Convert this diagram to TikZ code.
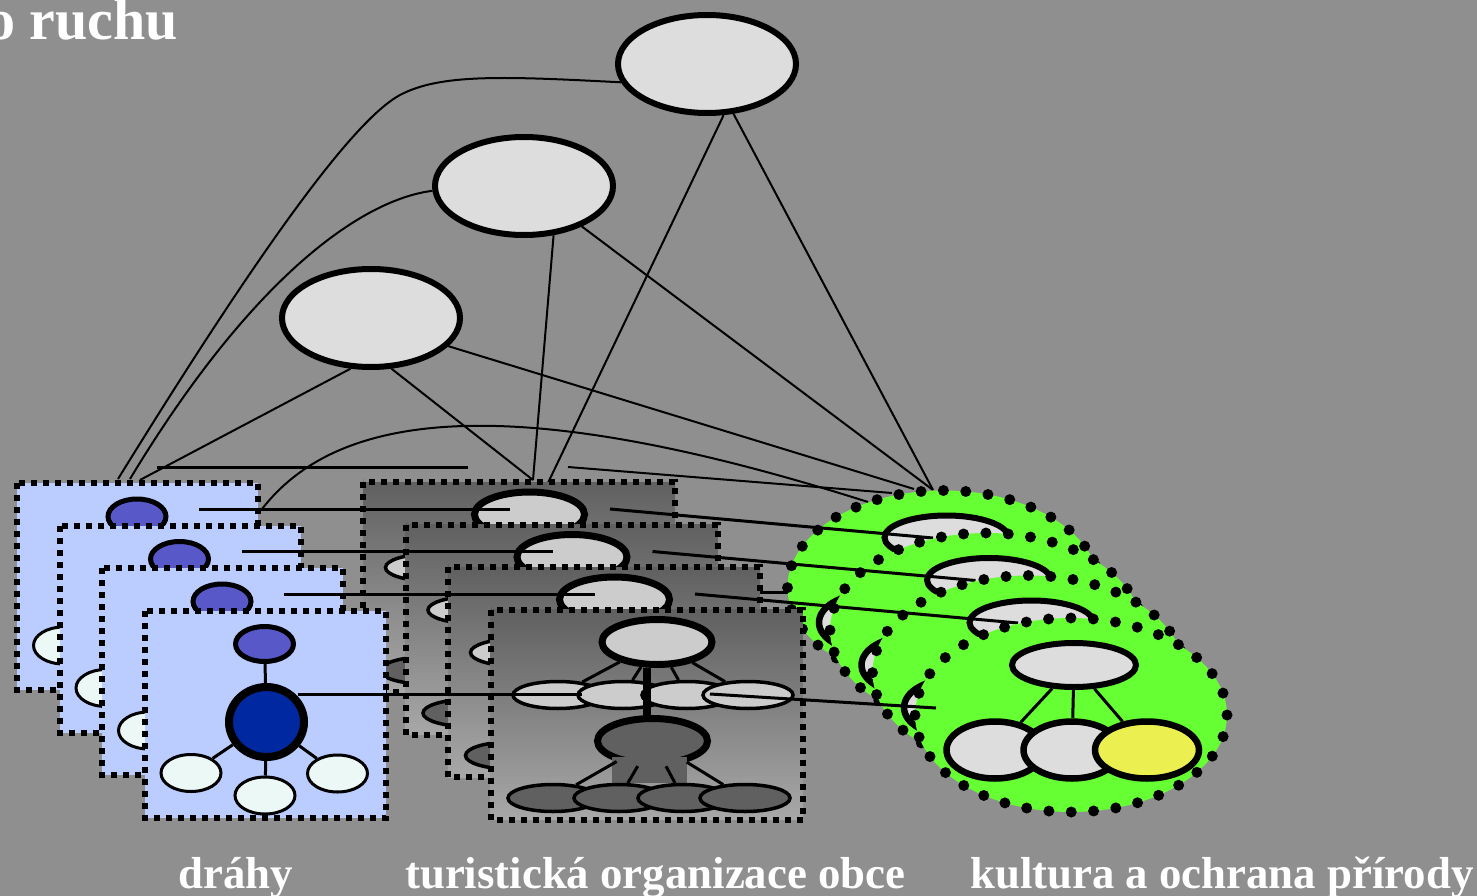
\documentclass[tikz,border=0pt]{standalone}
\usepackage{fontspec}
\setmainfont{Liberation Serif}
\usepackage{tikz}
\usetikzlibrary{shapes.geometric}

\definecolor{bgcol}{RGB}{143,143,143}
\definecolor{lightell}{RGB}{221,221,221}
\definecolor{cardblue}{RGB}{187,204,255}
\definecolor{headblue}{RGB}{88,88,200}
\definecolor{hubblue}{RGB}{0,40,160}
\definecolor{leafwhite}{RGB}{236,248,246}
\definecolor{cardtop}{RGB}{96,96,96}
\definecolor{cardbot}{RGB}{168,168,168}
\definecolor{lightg}{RGB}{204,204,204}
\definecolor{darkg}{RGB}{96,96,96}
\definecolor{blobgreen}{RGB}{102,255,51}
\definecolor{yell}{RGB}{235,240,80}

\begin{document}
\begin{tikzpicture}[
  x=1pt, y=-1pt,
  ell/.style={ellipse, draw, inner sep=0pt},
  topell/.style={ell, fill=lightell, line width=6pt, minimum width=178pt, minimum height=98pt},
  bluebox/.style={fill=cardblue, line width=6pt, dash pattern=on 6pt off 6pt},
  graybox/.style={line width=6pt, dash pattern=on 6pt off 6pt},
  head/.style={ell, fill=headblue, line width=5pt, minimum width=58pt, minimum height=35pt},
  hub/.style={ell, fill=hubblue, line width=8pt, minimum width=75pt, minimum height=70pt},
  leaf/.style={ell, fill=leafwhite, line width=3pt, minimum width=60pt, minimum height=37pt},
  gtop/.style={ell, fill=lightg, line width=7pt, minimum width=110pt, minimum height=45pt},
  gmid/.style={ell, fill=lightg, line width=3.5pt, minimum width=90pt, minimum height=27pt},
  gdark/.style={gtop, fill=darkg},
  gbot/.style={gmid, fill=darkg},
  blob/.style={fill=blobgreen, line width=11pt, dash pattern=on 0pt off 22.39pt, line cap=round},
  ntop/.style={ell, fill=lightell, line width=6pt, minimum width=124pt, minimum height=44pt},
  nbot/.style={ell, fill=lightell, line width=6.5pt, minimum width=97pt, minimum height=57pt},
  link/.style={line width=2pt},
  hlink/.style={line width=3pt},
  lab/.style={anchor=base west, inner sep=0pt, text=white, font=\fontsize{44.8}{44.8}\selectfont\bfseries}
]
  \useasboundingbox (0,0) rectangle (1477,896);
  \fill[bgcol] (0,0) rectangle (1477,896);

  % upper level
  \node[topell] (kraj) at (707,64) {};
  \node[topell] (okres) at (524,186) {};
  \node[topell] (obec) at (371,318) {};

  \coordinate (bA) at (118,479);
  \coordinate (bB) at (130,479);
  \coordinate (bC) at (140,480);
  \coordinate (gA) at (533,480);
  \coordinate (gB) at (547,485);
  \coordinate (nA) at (933,490);
  \coordinate (nB) at (914,489);
  \coordinate (nC) at (892,493);
  \coordinate (nD) at (868,502);
  \coordinate (hA) at (157,467);
  \coordinate (hB) at (468,467);
  \coordinate (hC) at (568,467);
  \coordinate (cA) at (262,509);
  \coordinate (hidA) at (700,592);
  \coordinate (hidB) at (800,592);

  \draw[link] (kraj.192) .. controls (500,76) and (440,74) .. (400,95)
    .. controls (350,122) and (250,265) .. (bA);
  \draw[link] (okres.183) .. controls (360,200) and (250,280) .. (bB);
  \draw[link] (obec.248) -- (bC);
  \draw[link] (kraj.288) -- (gB);
  \draw[link] (okres.301) -- (gA);
  \draw[link] (obec.292) -- (gA);
  \draw[link] (kraj.298) -- (nA);
  \draw[link] (okres.325) -- (nA);
  \draw[link] (obec.340) -- (nB);
  \draw[link] (cA) .. controls (335,415) and (500,385) .. (nD);
  \draw[hlink] (hA) -- (hB);
  \draw[link] (hC) -- (nC);
  \draw[hlink] (hidA) -- (hidB);

  % stacked cards, back to front
  \foreach \i in {0,...,3}{
    \begin{scope}[shift={(42.5*\i,42.5*\i)}]
      % drahy
      \draw[bluebox] (17,483) rectangle (258,690);
      \node[head] (bt\i) at (137,516.5) {};
      \node[hub] (bc\i) at (139,594.5) {};
      \node[leaf] (bla\i) at (63.5,645.5) {};
      \node[leaf] (blb\i) at (137.5,668) {};
      \node[leaf] (blc\i) at (210,646) {};
      \draw[hlink] (bt\i) -- (bc\i);
      \draw[hlink] (bc\i) -- (bla\i);
      \draw[hlink] (bc\i) -- (blb\i);
      \draw[hlink] (bc\i) -- (blc\i);

      % turisticka organizace
      \shade[top color=cardtop, bottom color=cardbot] (363,482) rectangle (675,692);
      \draw[graybox] (363,482) rectangle (675,692);
      \node[gtop] (gt\i) at (529.5,514.5) {};
      \node[gmid] (gma\i) at (430.5,567.5) {};
      \node[gmid] (gmb\i) at (495.5,567.5) {};
      \node[gmid] (gmc\i) at (559.5,567.5) {};
      \node[gmid] (gmd\i) at (620.5,567.5) {};
      \draw[hlink] (gt\i) -- (gma\i);
      \draw[hlink] (gt\i) -- (gmb\i);
      \draw[hlink] (gt\i) -- (gmc\i);
      \draw[hlink] (gt\i) -- (gmd\i);
      \draw[line width=8pt] ([xshift=-10pt]gt\i.south) -- (519.5,592);
      \node[gdark] (gd\i) at (525,613.5) {};
      \fill[darkg] (484.5,629.5) rectangle (559.5,655.5);
      \node[gbot] (gba\i) at (425.5,670.5) {};
      \node[gbot] (gbb\i) at (491.5,670.5) {};
      \node[gbot] (gbc\i) at (555.5,670.5) {};
      \node[gbot] (gbd\i) at (617.5,670.5) {};
      \draw[hlink] (gd\i) -- (gba\i);
      \draw[hlink] (gd\i) -- (gbb\i);
      \draw[hlink] (gd\i) -- (gbc\i);
      \draw[hlink] (gd\i) -- (gbd\i);

      % kultura a ochrana prirody
      \draw[blob] (943.5,587.5) ellipse [x radius=156pt, y radius=97pt];
      \node[ntop] (nt\i) at (946.5,537.5) {};
      \node[nbot] (nl\i) at (867.5,622.5) {};
      \node[nbot] (nm\i) at (944.5,622.5) {};
      \node[nbot, fill=yell, minimum width=104pt] (ny\i) at (1019.5,622.5) {};
      \draw[hlink] (nt\i) -- (nl\i);
      \draw[hlink] (nt\i) -- (nm\i);
      \draw[hlink] (nt\i) -- (ny\i);

      % links of this layer
      \ifnum\i<3
        \coordinate (pa\i) at (199,509);
        \coordinate (pb\i) at (510,509);
        \coordinate (pc\i) at (610,509);
        \coordinate (pd\i) at (933,538);
      \else
        \coordinate (pa\i) at (170.5,566.5);
        \coordinate (pb\i) at (454.5,566.5);
        \coordinate (pc\i) at (582.5,566.5);
        \coordinate (pd\i) at (808.5,580.5);
      \fi
      \draw[hlink] (pa\i) -- (pb\i);
      \draw[hlink] (pc\i) -- (pd\i);
    \end{scope}
  }

  % texts
  \node[anchor=base west, inner sep=0pt, text=white, font=\fontsize{58}{58}\selectfont\bfseries] (title) at (-14,40) {o ruchu};
  \node[lab] (dr) at (178,888) {dráhy};
  \node[lab] (to) at (405,888) {turistická organizace obce};
  \node[lab] (ko) at (970,888) {kultura a ochrana přírody};
\end{tikzpicture}
\end{document}
